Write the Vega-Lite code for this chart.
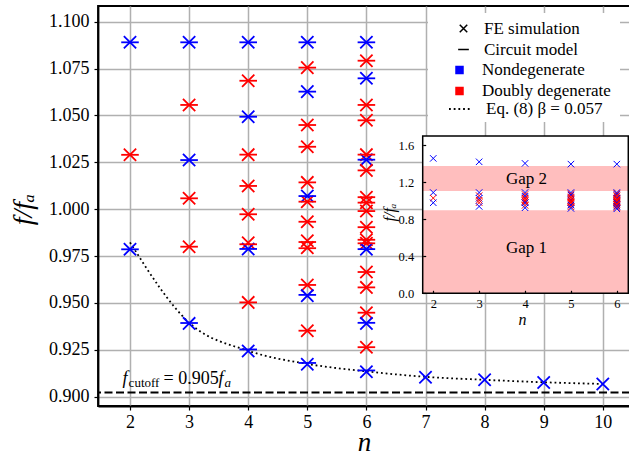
{
  "$schema": "https://vega.github.io/schema/vega-lite/v6.json",
  "width": 532,
  "height": 400,
  "autosize": {"type": "none"},
  "padding": {"left": 98, "top": 6, "right": 0, "bottom": 50},
  "background": "white",
  "config": {
    "view": {"stroke": "black", "strokeWidth": 1.8},
    "font": "Liberation Serif, Times New Roman, Times, DejaVu Serif, serif",
    "axis": {"labelFont": "Liberation Serif, Times New Roman, Times, DejaVu Serif, serif", "titleFont": "Liberation Serif, Times New Roman, Times, DejaVu Serif, serif", "labelColor": "black", "titleColor": "black", "tickColor": "black", "domainColor": "black", "titleFontWeight": "normal"},
    "legend": {"labelFont": "Liberation Serif, Times New Roman, Times, DejaVu Serif, serif", "labelFontSize": 17, "labelColor": "black"},
    "text": {"font": "Liberation Serif, Times New Roman, Times, DejaVu Serif, serif"}
  },
  "datasets": {
    "modes": [
      {"n": 2, "f": 1.089, "type": "Nondegenerate", "model": "FE simulation"},
      {"n": 2, "f": 1.029, "type": "Doubly degenerate", "model": "FE simulation"},
      {"n": 2, "f": 0.9786, "type": "Nondegenerate", "model": "FE simulation"},
      {"n": 3, "f": 1.089, "type": "Nondegenerate", "model": "FE simulation"},
      {"n": 3, "f": 1.0556, "type": "Doubly degenerate", "model": "FE simulation"},
      {"n": 3, "f": 1.0262, "type": "Nondegenerate", "model": "FE simulation"},
      {"n": 3, "f": 1.0058, "type": "Doubly degenerate", "model": "FE simulation"},
      {"n": 3, "f": 0.98, "type": "Doubly degenerate", "model": "FE simulation"},
      {"n": 3, "f": 0.9391, "type": "Nondegenerate", "model": "FE simulation"},
      {"n": 4, "f": 1.089, "type": "Nondegenerate", "model": "FE simulation"},
      {"n": 4, "f": 1.0685, "type": "Doubly degenerate", "model": "FE simulation"},
      {"n": 4, "f": 1.0493, "type": "Nondegenerate", "model": "FE simulation"},
      {"n": 4, "f": 1.0291, "type": "Doubly degenerate", "model": "FE simulation"},
      {"n": 4, "f": 1.0124, "type": "Doubly degenerate", "model": "FE simulation"},
      {"n": 4, "f": 0.9973, "type": "Doubly degenerate", "model": "FE simulation"},
      {"n": 4, "f": 0.9821, "type": "Doubly degenerate", "model": "FE simulation"},
      {"n": 4, "f": 0.9788, "type": "Nondegenerate", "model": "FE simulation"},
      {"n": 4, "f": 0.9503, "type": "Doubly degenerate", "model": "FE simulation"},
      {"n": 4, "f": 0.9244, "type": "Nondegenerate", "model": "FE simulation"},
      {"n": 5, "f": 1.089, "type": "Nondegenerate", "model": "FE simulation"},
      {"n": 5, "f": 1.0755, "type": "Doubly degenerate", "model": "FE simulation"},
      {"n": 5, "f": 1.0627, "type": "Nondegenerate", "model": "FE simulation"},
      {"n": 5, "f": 1.0449, "type": "Doubly degenerate", "model": "FE simulation"},
      {"n": 5, "f": 1.0333, "type": "Doubly degenerate", "model": "FE simulation"},
      {"n": 5, "f": 1.0143, "type": "Doubly degenerate", "model": "FE simulation"},
      {"n": 5, "f": 1.007, "type": "Nondegenerate", "model": "FE simulation"},
      {"n": 5, "f": 1.004, "type": "Doubly degenerate", "model": "FE simulation"},
      {"n": 5, "f": 0.9933, "type": "Doubly degenerate", "model": "FE simulation"},
      {"n": 5, "f": 0.9832, "type": "Doubly degenerate", "model": "FE simulation"},
      {"n": 5, "f": 0.9795, "type": "Doubly degenerate", "model": "FE simulation"},
      {"n": 5, "f": 0.9596, "type": "Doubly degenerate", "model": "FE simulation"},
      {"n": 5, "f": 0.9539, "type": "Nondegenerate", "model": "FE simulation"},
      {"n": 5, "f": 0.9352, "type": "Doubly degenerate", "model": "FE simulation"},
      {"n": 5, "f": 0.9173, "type": "Nondegenerate", "model": "FE simulation"},
      {"n": 6, "f": 1.089, "type": "Nondegenerate", "model": "FE simulation"},
      {"n": 6, "f": 1.0792, "type": "Doubly degenerate", "model": "FE simulation"},
      {"n": 6, "f": 1.0698, "type": "Nondegenerate", "model": "FE simulation"},
      {"n": 6, "f": 1.0556, "type": "Doubly degenerate", "model": "FE simulation"},
      {"n": 6, "f": 1.0474, "type": "Doubly degenerate", "model": "FE simulation"},
      {"n": 6, "f": 1.0291, "type": "Doubly degenerate", "model": "FE simulation"},
      {"n": 6, "f": 1.0264, "type": "Nondegenerate", "model": "FE simulation"},
      {"n": 6, "f": 1.0207, "type": "Doubly degenerate", "model": "FE simulation"},
      {"n": 6, "f": 1.0064, "type": "Doubly degenerate", "model": "FE simulation"},
      {"n": 6, "f": 1.0035, "type": "Doubly degenerate", "model": "FE simulation"},
      {"n": 6, "f": 0.999, "type": "Doubly degenerate", "model": "FE simulation"},
      {"n": 6, "f": 0.9904, "type": "Doubly degenerate", "model": "FE simulation"},
      {"n": 6, "f": 0.9837, "type": "Doubly degenerate", "model": "FE simulation"},
      {"n": 6, "f": 0.9818, "type": "Doubly degenerate", "model": "FE simulation"},
      {"n": 6, "f": 0.9787, "type": "Nondegenerate", "model": "FE simulation"},
      {"n": 6, "f": 0.9665, "type": "Doubly degenerate", "model": "FE simulation"},
      {"n": 6, "f": 0.9583, "type": "Doubly degenerate", "model": "FE simulation"},
      {"n": 6, "f": 0.9448, "type": "Doubly degenerate", "model": "FE simulation"},
      {"n": 6, "f": 0.9391, "type": "Nondegenerate", "model": "FE simulation"},
      {"n": 6, "f": 0.9264, "type": "Doubly degenerate", "model": "FE simulation"},
      {"n": 6, "f": 0.9133, "type": "Nondegenerate", "model": "FE simulation"},
      {"n": 7, "f": 0.9104, "type": "Nondegenerate", "model": "FE simulation"},
      {"n": 8, "f": 0.909, "type": "Nondegenerate", "model": "FE simulation"},
      {"n": 9, "f": 0.9076, "type": "Nondegenerate", "model": "FE simulation"},
      {"n": 10, "f": 0.9068, "type": "Nondegenerate", "model": "FE simulation"},
      {"n": 2, "f": 1.089, "type": "Nondegenerate", "model": "Circuit model"},
      {"n": 2, "f": 1.029, "type": "Doubly degenerate", "model": "Circuit model"},
      {"n": 2, "f": 0.9786, "type": "Nondegenerate", "model": "Circuit model"},
      {"n": 3, "f": 1.089, "type": "Nondegenerate", "model": "Circuit model"},
      {"n": 3, "f": 1.0556, "type": "Doubly degenerate", "model": "Circuit model"},
      {"n": 3, "f": 1.0262, "type": "Nondegenerate", "model": "Circuit model"},
      {"n": 3, "f": 1.0058, "type": "Doubly degenerate", "model": "Circuit model"},
      {"n": 3, "f": 0.98, "type": "Doubly degenerate", "model": "Circuit model"},
      {"n": 3, "f": 0.9393, "type": "Nondegenerate", "model": "Circuit model"},
      {"n": 4, "f": 1.089, "type": "Nondegenerate", "model": "Circuit model"},
      {"n": 4, "f": 1.0685, "type": "Doubly degenerate", "model": "Circuit model"},
      {"n": 4, "f": 1.0493, "type": "Nondegenerate", "model": "Circuit model"},
      {"n": 4, "f": 1.0291, "type": "Doubly degenerate", "model": "Circuit model"},
      {"n": 4, "f": 1.0124, "type": "Doubly degenerate", "model": "Circuit model"},
      {"n": 4, "f": 0.9973, "type": "Doubly degenerate", "model": "Circuit model"},
      {"n": 4, "f": 0.9813, "type": "Doubly degenerate", "model": "Circuit model"},
      {"n": 4, "f": 0.9788, "type": "Nondegenerate", "model": "Circuit model"},
      {"n": 4, "f": 0.9503, "type": "Doubly degenerate", "model": "Circuit model"},
      {"n": 4, "f": 0.9252, "type": "Nondegenerate", "model": "Circuit model"},
      {"n": 5, "f": 1.089, "type": "Nondegenerate", "model": "Circuit model"},
      {"n": 5, "f": 1.0755, "type": "Doubly degenerate", "model": "Circuit model"},
      {"n": 5, "f": 1.0627, "type": "Nondegenerate", "model": "Circuit model"},
      {"n": 5, "f": 1.0449, "type": "Doubly degenerate", "model": "Circuit model"},
      {"n": 5, "f": 1.0333, "type": "Doubly degenerate", "model": "Circuit model"},
      {"n": 5, "f": 1.0143, "type": "Doubly degenerate", "model": "Circuit model"},
      {"n": 5, "f": 1.007, "type": "Nondegenerate", "model": "Circuit model"},
      {"n": 5, "f": 1.004, "type": "Doubly degenerate", "model": "Circuit model"},
      {"n": 5, "f": 0.9933, "type": "Doubly degenerate", "model": "Circuit model"},
      {"n": 5, "f": 0.9825, "type": "Doubly degenerate", "model": "Circuit model"},
      {"n": 5, "f": 0.9792, "type": "Doubly degenerate", "model": "Circuit model"},
      {"n": 5, "f": 0.9596, "type": "Doubly degenerate", "model": "Circuit model"},
      {"n": 5, "f": 0.9543, "type": "Nondegenerate", "model": "Circuit model"},
      {"n": 5, "f": 0.9352, "type": "Doubly degenerate", "model": "Circuit model"},
      {"n": 5, "f": 0.918, "type": "Nondegenerate", "model": "Circuit model"},
      {"n": 6, "f": 1.089, "type": "Nondegenerate", "model": "Circuit model"},
      {"n": 6, "f": 1.0792, "type": "Doubly degenerate", "model": "Circuit model"},
      {"n": 6, "f": 1.0698, "type": "Nondegenerate", "model": "Circuit model"},
      {"n": 6, "f": 1.0556, "type": "Doubly degenerate", "model": "Circuit model"},
      {"n": 6, "f": 1.0474, "type": "Doubly degenerate", "model": "Circuit model"},
      {"n": 6, "f": 1.0291, "type": "Doubly degenerate", "model": "Circuit model"},
      {"n": 6, "f": 1.0264, "type": "Nondegenerate", "model": "Circuit model"},
      {"n": 6, "f": 1.0207, "type": "Doubly degenerate", "model": "Circuit model"},
      {"n": 6, "f": 1.0064, "type": "Doubly degenerate", "model": "Circuit model"},
      {"n": 6, "f": 1.0035, "type": "Doubly degenerate", "model": "Circuit model"},
      {"n": 6, "f": 0.999, "type": "Doubly degenerate", "model": "Circuit model"},
      {"n": 6, "f": 0.9904, "type": "Doubly degenerate", "model": "Circuit model"},
      {"n": 6, "f": 0.9837, "type": "Doubly degenerate", "model": "Circuit model"},
      {"n": 6, "f": 0.9818, "type": "Doubly degenerate", "model": "Circuit model"},
      {"n": 6, "f": 0.9787, "type": "Nondegenerate", "model": "Circuit model"},
      {"n": 6, "f": 0.9665, "type": "Doubly degenerate", "model": "Circuit model"},
      {"n": 6, "f": 0.9583, "type": "Doubly degenerate", "model": "Circuit model"},
      {"n": 6, "f": 0.9448, "type": "Doubly degenerate", "model": "Circuit model"},
      {"n": 6, "f": 0.9394, "type": "Nondegenerate", "model": "Circuit model"},
      {"n": 6, "f": 0.9264, "type": "Doubly degenerate", "model": "Circuit model"},
      {"n": 6, "f": 0.914, "type": "Nondegenerate", "model": "Circuit model"}
    ],
    "eq8": [
      {"n": 2, "f": 0.9823, "curve": "Eq. (8) β = 0.057"},
      {"n": 3, "f": 0.9395, "curve": "Eq. (8) β = 0.057"},
      {"n": 4, "f": 0.9245, "curve": "Eq. (8) β = 0.057"},
      {"n": 5, "f": 0.9175, "curve": "Eq. (8) β = 0.057"},
      {"n": 6, "f": 0.9135, "curve": "Eq. (8) β = 0.057"},
      {"n": 7, "f": 0.9106, "curve": "Eq. (8) β = 0.057"},
      {"n": 8, "f": 0.909, "curve": "Eq. (8) β = 0.057"},
      {"n": 9, "f": 0.9077, "curve": "Eq. (8) β = 0.057"},
      {"n": 10, "f": 0.9068, "curve": "Eq. (8) β = 0.057"}
    ],
    "upper": [
      {"n": 2, "f": 1.458, "type": "Nondegenerate"},
      {"n": 3, "f": 1.421, "type": "Nondegenerate"},
      {"n": 4, "f": 1.404, "type": "Nondegenerate"},
      {"n": 5, "f": 1.396, "type": "Nondegenerate"},
      {"n": 6, "f": 1.396, "type": "Nondegenerate"}
    ],
    "gaps": [
      {"gap": "Gap 1", "lo": 0, "hi": 0.897},
      {"gap": "Gap 2", "lo": 1.106, "hi": 1.377}
    ]
  },
  "resolve": {"scale": {"x": "independent", "y": "independent"}},
  "layer": [
    {
      "layer": [
        {
          "data": {"values": [{}]},
          "mark": {"type": "rect", "fill": "white", "strokeWidth": 0},
          "encoding": {
            "x": {"datum": 7.042, "type": "quantitative", "scale": {"domain": [1.4585, 10.4602], "nice": false, "zero": false}, "title": "n"},
            "x2": {"datum": 10.291},
            "y": {"datum": 1.1046, "type": "quantitative", "scale": {"domain": [0.89504, 1.10837], "nice": false, "zero": false}, "title": "f/fₐ"},
            "y2": {"datum": 1.0465}
          }
        },
        {
          "data": {"values": [{}]},
          "mark": {"type": "rule", "color": "black", "strokeWidth": 2, "strokeDash": [8, 3.5]},
          "encoding": {
            "y": {"datum": 0.9023, "type": "quantitative", "scale": {"domain": [0.89504, 1.10837], "nice": false, "zero": false}, "title": "f/fₐ"}
          }
        },
        {
          "data": {"name": "eq8"},
          "mark": {"type": "line", "color": "black", "strokeWidth": 1.8, "interpolate": "monotone", "strokeCap": "butt"},
          "encoding": {
            "x": {"field": "n", "type": "quantitative", "scale": {"domain": [1.4585, 10.4602], "nice": false, "zero": false}, "title": "n"},
            "y": {"field": "f", "type": "quantitative", "scale": {"domain": [0.89504, 1.10837], "nice": false, "zero": false}, "title": "f/fₐ"},
            "strokeDash": {"field": "curve", "type": "nominal", "scale": {"range": [[1.8, 2.9]]},
              "legend": {"title": null, "orient": "none", "legendX": 350, "legendY": 91, "symbolType": "stroke", "symbolSize": 484, "symbolStrokeWidth": 1.8, "symbolStrokeColor": "black", "labelOffset": 14, "padding": 0}}
          }
        },
        {
          "data": {"name": "modes"},
          "mark": {"type": "point", "filled": false, "size": 151, "strokeWidth": 1.8, "opacity": 1},
          "encoding": {
            "x": {"field": "n", "type": "quantitative", "scale": {"domain": [1.4585, 10.4602], "nice": false, "zero": false}, "title": "n",
              "axis": {"orient": "bottom", "values": [2, 3, 4, 5, 6, 7, 8, 9, 10], "format": "d", "grid": true, "gridColor": "#b0b0b0", "gridWidth": 1.5, "gridOpacity": 1, "domainWidth": 1.8, "tickSize": 4, "tickWidth": 1.2, "labelFontSize": 18, "labelPadding": 3, "titleFontStyle": "italic", "titleFontSize": 27, "titleBaseline": "alphabetic", "titleY": 44, "labelFlush": false}},
            "y": {"field": "f", "type": "quantitative", "scale": {"domain": [0.89504, 1.10837], "nice": false, "zero": false}, "title": "f/fₐ",
              "axis": {"orient": "left", "values": [0.9, 0.925, 0.95, 0.975, 1.0, 1.025, 1.05, 1.075, 1.1], "format": ".3f", "grid": true, "gridColor": "#b0b0b0", "gridWidth": 1.5, "gridOpacity": 1, "domainWidth": 1.8, "tickSize": 4, "tickWidth": 1.2, "labelFontSize": 18, "labelPadding": 5, "titleFontStyle": "italic", "titleFontSize": 28, "titleBaseline": "middle", "titleX": -75, "titleY": 203, "labelFlush": false}},
            "color": {"field": "type", "type": "nominal", "scale": {"domain": ["Nondegenerate", "Doubly degenerate"], "range": ["#0000ff", "#ff0000"]},
              "legend": {"title": null, "orient": "none", "legendX": 353, "legendY": 55.5, "symbolType": "square", "symbolSize": 16, "symbolStrokeWidth": 4.5, "labelOffset": 14, "rowPadding": 3, "clipHeight": 17, "padding": 0}},
            "shape": {"field": "model", "type": "nominal", "scale": {"domain": ["FE simulation", "Circuit model"], "range": ["M-1,-1L1,1M-1,1L1,-1", "M-1.43,0L1.43,0"]},
              "legend": {"title": null, "orient": "none", "legendX": 357, "legendY": 14, "symbolSize": 56, "symbolStrokeWidth": 1.5, "symbolStrokeColor": "black", "symbolFillColor": "transparent", "labelOffset": 12, "rowPadding": 3, "clipHeight": 17, "padding": 0}}
          }
        },
        {
          "data": {"values": [{}]},
          "mark": {"type": "text", "text": "f", "fontSize": 18, "fontStyle": "italic", "align": "left", "baseline": "alphabetic", "color": "black"},
          "encoding": {
            "x": {"datum": 1.875, "type": "quantitative", "scale": {"domain": [1.4585, 10.4602], "nice": false, "zero": false}, "title": "n"},
            "y": {"datum": 0.9068, "type": "quantitative", "scale": {"domain": [0.89504, 1.10837], "nice": false, "zero": false}, "title": "f/fₐ"}
          }
        },
        {
          "data": {"values": [{}]},
          "mark": {"type": "text", "text": "cutoff", "fontSize": 13, "align": "left", "baseline": "alphabetic", "color": "black", "dx": 6, "dy": 3},
          "encoding": {
            "x": {"datum": 1.875, "type": "quantitative", "scale": {"domain": [1.4585, 10.4602], "nice": false, "zero": false}, "title": "n"},
            "y": {"datum": 0.9068, "type": "quantitative", "scale": {"domain": [0.89504, 1.10837], "nice": false, "zero": false}, "title": "f/fₐ"}
          }
        },
        {
          "data": {"values": [{}]},
          "mark": {"type": "text", "text": "= 0.905", "fontSize": 18, "align": "left", "baseline": "alphabetic", "color": "black", "dx": 41},
          "encoding": {
            "x": {"datum": 1.875, "type": "quantitative", "scale": {"domain": [1.4585, 10.4602], "nice": false, "zero": false}, "title": "n"},
            "y": {"datum": 0.9068, "type": "quantitative", "scale": {"domain": [0.89504, 1.10837], "nice": false, "zero": false}, "title": "f/fₐ"}
          }
        },
        {
          "data": {"values": [{}]},
          "mark": {"type": "text", "text": "f", "fontSize": 18, "fontStyle": "italic", "align": "left", "baseline": "alphabetic", "color": "black", "dx": 96},
          "encoding": {
            "x": {"datum": 1.875, "type": "quantitative", "scale": {"domain": [1.4585, 10.4602], "nice": false, "zero": false}, "title": "n"},
            "y": {"datum": 0.9068, "type": "quantitative", "scale": {"domain": [0.89504, 1.10837], "nice": false, "zero": false}, "title": "f/fₐ"}
          }
        },
        {
          "data": {"values": [{}]},
          "mark": {"type": "text", "text": "a", "fontSize": 13, "fontStyle": "italic", "align": "left", "baseline": "alphabetic", "color": "black", "dx": 102, "dy": 3},
          "encoding": {
            "x": {"datum": 1.875, "type": "quantitative", "scale": {"domain": [1.4585, 10.4602], "nice": false, "zero": false}, "title": "n"},
            "y": {"datum": 0.9068, "type": "quantitative", "scale": {"domain": [0.89504, 1.10837], "nice": false, "zero": false}, "title": "f/fₐ"}
          }
        }
      ]
    },
    {
      "layer": [
        {
          "data": {"values": [{}]},
          "mark": {"type": "rect", "fill": "white", "strokeWidth": 0},
          "encoding": {
            "x": {"datum": 1.77, "type": "quantitative", "scale": {"domain": [1.77, 6.25], "range": [324.7, 530.3], "nice": false, "zero": false}, "title": "n"},
            "x2": {"datum": 6.25},
            "y": {"datum": 0, "type": "quantitative", "scale": {"domain": [0, 1.7], "range": [287.3, 130], "nice": false, "zero": false}, "title": "f/fₐ"},
            "y2": {"datum": 1.7}
          }
        },
        {
          "data": {"name": "gaps"},
          "mark": {"type": "rect", "fill": "#ffbebe", "strokeWidth": 0},
          "encoding": {
            "x": {"datum": 1.77, "type": "quantitative", "scale": {"domain": [1.77, 6.25], "range": [324.7, 530.3], "nice": false, "zero": false}, "title": "n"},
            "x2": {"datum": 6.25},
            "y": {"field": "lo", "type": "quantitative", "scale": {"domain": [0, 1.7], "range": [287.3, 130], "nice": false, "zero": false}, "title": "f/fₐ"},
            "y2": {"field": "hi"}
          }
        },
        {
          "data": {"name": "modes"},
          "transform": [{"filter": "datum.model === 'FE simulation' && datum.n <= 6"}],
          "mark": {"type": "point", "filled": false, "size": 42, "strokeWidth": 1, "opacity": 1, "shape": "M-1,-1L1,1M-1,1L1,-1"},
          "encoding": {
            "x": {"field": "n", "type": "quantitative", "scale": {"domain": [1.77, 6.25], "range": [324.7, 530.3], "nice": false, "zero": false}, "title": "n",
              "axis": {"orient": "bottom", "offset": -112.7, "values": [2, 3, 4, 5, 6], "format": "d", "grid": false, "domain": false, "tickSize": -3, "tickWidth": 1.2, "labelFontSize": 12.5, "labelPadding": 7, "titleFontStyle": "italic", "titleFontSize": 16, "titleBaseline": "alphabetic", "titleX": 424, "titleY": 31, "zindex": 1, "labelFlush": false}},
            "y": {"field": "f", "type": "quantitative", "scale": {"domain": [0, 1.7], "range": [287.3, 130], "nice": false, "zero": false}, "title": "f/fₐ",
              "axis": {"orient": "left", "offset": -324.7, "values": [0, 0.4, 0.8, 1.2, 1.6], "format": ".1f", "grid": false, "domain": false, "tickSize": -3, "tickWidth": 1.2, "labelFontSize": 12.5, "labelPadding": 12, "titleFontStyle": "italic", "titleFontSize": 16, "titleBaseline": "middle", "titleX": -33, "titleY": 206, "zindex": 1, "labelFlush": false}},
            "color": {"field": "type", "type": "nominal", "scale": {"domain": ["Nondegenerate", "Doubly degenerate"], "range": ["#0000ff", "#ff0000"]},
              "legend": {"title": null, "orient": "none", "legendX": 353, "legendY": 55.5, "symbolType": "square", "symbolSize": 16, "symbolStrokeWidth": 4.5, "labelOffset": 14, "rowPadding": 3, "clipHeight": 17, "padding": 0}}
          }
        },
        {
          "data": {"name": "upper"},
          "mark": {"type": "point", "filled": false, "size": 42, "strokeWidth": 1, "opacity": 1, "shape": "M-1,-1L1,1M-1,1L1,-1"},
          "encoding": {
            "x": {"field": "n", "type": "quantitative", "scale": {"domain": [1.77, 6.25], "range": [324.7, 530.3], "nice": false, "zero": false}, "title": "n"},
            "y": {"field": "f", "type": "quantitative", "scale": {"domain": [0, 1.7], "range": [287.3, 130], "nice": false, "zero": false}, "title": "f/fₐ"},
            "color": {"field": "type", "type": "nominal", "scale": {"domain": ["Nondegenerate", "Doubly degenerate"], "range": ["#0000ff", "#ff0000"]},
              "legend": {"title": null, "orient": "none", "legendX": 353, "legendY": 55.5, "symbolType": "square", "symbolSize": 16, "symbolStrokeWidth": 4.5, "labelOffset": 14, "rowPadding": 3, "clipHeight": 17, "padding": 0}}
          }
        },
        {
          "data": {"values": [{}]},
          "mark": {"type": "text", "text": "Gap 2", "fontSize": 17, "align": "center", "baseline": "middle", "color": "black"},
          "encoding": {
            "x": {"datum": 4.03, "type": "quantitative", "scale": {"domain": [1.77, 6.25], "range": [324.7, 530.3], "nice": false, "zero": false}, "title": "n"},
            "y": {"datum": 1.24, "type": "quantitative", "scale": {"domain": [0, 1.7], "range": [287.3, 130], "nice": false, "zero": false}, "title": "f/fₐ"}
          }
        },
        {
          "data": {"values": [{}]},
          "mark": {"type": "text", "text": "Gap 1", "fontSize": 17, "align": "center", "baseline": "middle", "color": "black"},
          "encoding": {
            "x": {"datum": 4.03, "type": "quantitative", "scale": {"domain": [1.77, 6.25], "range": [324.7, 530.3], "nice": false, "zero": false}, "title": "n"},
            "y": {"datum": 0.49, "type": "quantitative", "scale": {"domain": [0, 1.7], "range": [287.3, 130], "nice": false, "zero": false}, "title": "f/fₐ"}
          }
        },
        {
          "data": {"values": [{}]},
          "mark": {"type": "rect", "fillOpacity": 0, "stroke": "black", "strokeWidth": 1.5},
          "encoding": {
            "x": {"datum": 1.77, "type": "quantitative", "scale": {"domain": [1.77, 6.25], "range": [324.7, 530.3], "nice": false, "zero": false}, "title": "n"},
            "x2": {"datum": 6.25},
            "y": {"datum": 0, "type": "quantitative", "scale": {"domain": [0, 1.7], "range": [287.3, 130], "nice": false, "zero": false}, "title": "f/fₐ"},
            "y2": {"datum": 1.7}
          }
        }
      ]
    }
  ]
}
